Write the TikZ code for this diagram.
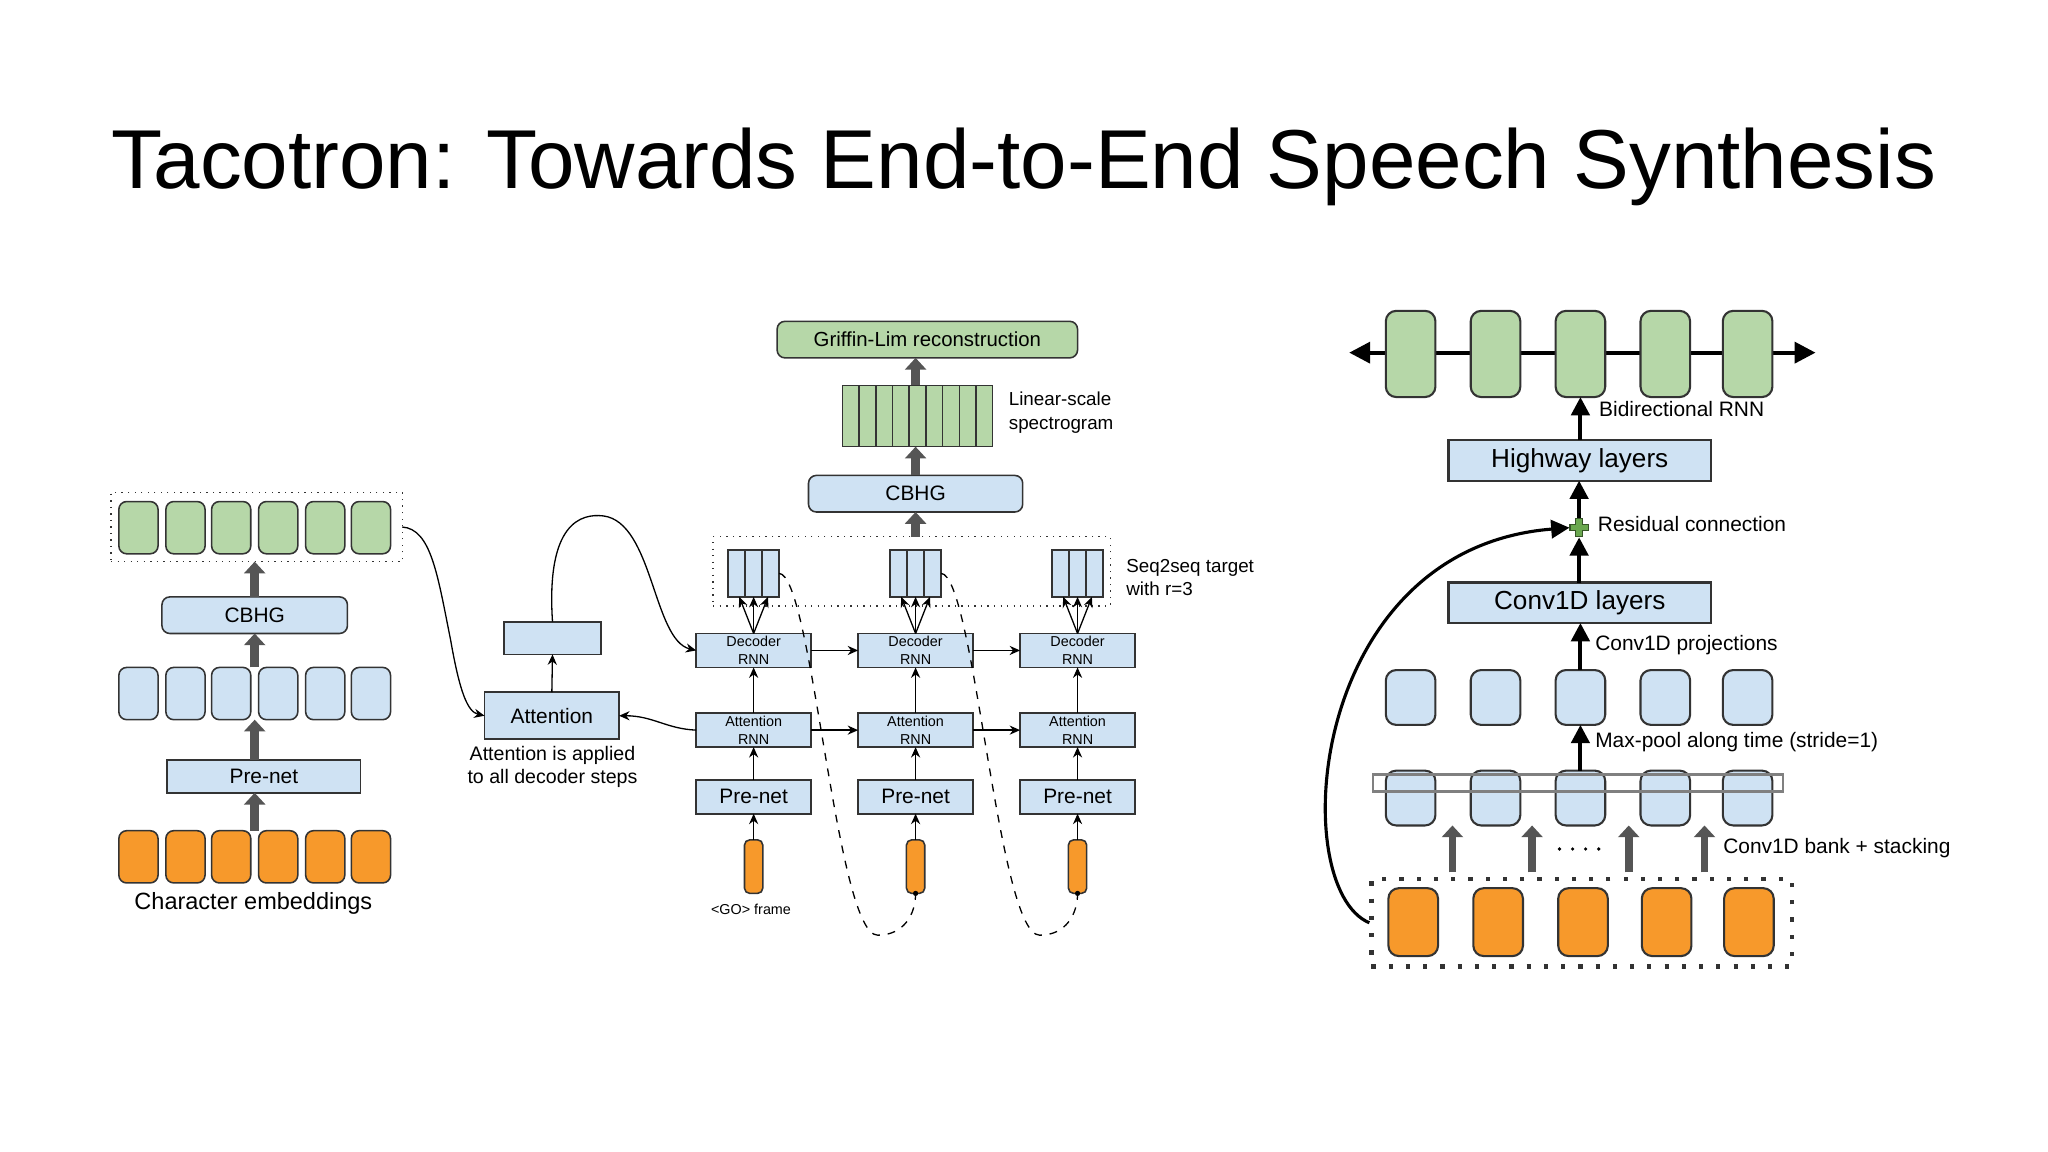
\documentclass[tikz,border=0pt]{standalone}
\usepackage{fontspec}
\setmainfont{Liberation Sans}
\usetikzlibrary{arrows.meta}
\definecolor{bl}{HTML}{CFE2F3}
\definecolor{gr}{HTML}{B6D7A8}
\definecolor{og}{HTML}{F7992B}
\definecolor{bd}{HTML}{333333}
\definecolor{gy}{HTML}{555555}
\definecolor{pl}{HTML}{6AA84F}
\newcommand\bx[7]{\node[#6,minimum width=#4*0.5pt,minimum height=#5*0.5pt] (#1) at (#2,#3) {#7};}
\newcommand\fs[2]{\fontsize{#1}{#2}\selectfont}
\begin{document}
\begin{tikzpicture}[x=0.5pt,y=-0.5pt,
  box/.style={draw=bd,line width=0.6pt,inner sep=0pt,outer sep=0pt,fill=bl,align=center},
  rbox/.style={box,rounded corners=3pt},
  gbox/.style={rbox,fill=gr},
  obox/.style={rbox,fill=og},
  dotbox/.style={draw=bd,dotted,line width=0.5pt,inner sep=0pt,outer sep=0pt},
  garr/.style={draw=gy,line width=3.5pt,-{Triangle[width=8pt,length=4.5pt]}},
  barr/.style={draw=black,line width=1.5pt,-{Triangle[width=7pt,length=7pt]}},
  tarr/.style={draw=black,line width=0.5pt,-{Stealth[length=4pt,width=3.5pt]}},
  lab/.style={inner sep=0pt,anchor=west,align=left}]
\useasboundingbox (0,0) rectangle (1568,882);
\fill[white] (0,0) rectangle (1568,882);
\node[font=\fs{32}{38}] (title) at (784,128) {Tacotron: Towards End-to-End Speech Synthesis};

% ---------- left: encoder ----------
\bx{ldot}{196.5}{403.5}{223}{53}{dotbox}{}
\foreach \i/\x in {1/106,2/142,3/177,4/213,5/249,6/284}{
  \bx{lg\i}{\x}{404}{30}{40}{gbox}{}
  \bx{lb\i}{\x}{531}{30}{40}{rbox}{}
  \bx{lo\i}{\x}{656}{30}{40}{obox}{}
}
\bx{lcbhg}{195}{471}{142}{28}{rbox,font=\fs{8}{10}}{CBHG}
\bx{lpre}{202}{594.5}{148}{25}{box,font=\fs{8}{10}}{Pre-net}
\draw[garr] (lcbhg.north) -- (lcbhg.north |- ldot.south);
\draw[garr] (lb1.north -| lcbhg) -- (lcbhg.south);
\draw[garr] (lpre.north -| lcbhg) -- (lb1.south -| lcbhg);
\draw[garr] (lo1.north -| lcbhg) -- (lpre.south -| lcbhg);
\node[font=\fs{9}{11}] (cemb) at (194,692) {Character embeddings};

% ---------- middle: attention + decoder ----------
\bx{emp}{423}{488.5}{74}{25}{box}{}
\bx{att}{422.5}{548}{103}{36}{box,font=\fs{8}{10}}{Attention}
\node[font=\fs{7.5}{9},align=center] (note) at (423,587) {Attention is applied\\to all decoder steps};
\bx{mdot}{698}{437.5}{304}{53}{dotbox}{}
\foreach \i/\x in {1/577,2/701,3/825}{
  \bx{dec\i}{\x}{498}{88}{26}{box,font=\fs{5.5}{7}}{Decoder\\RNN}
  \bx{ar\i}{\x}{559}{88}{26}{box,font=\fs{5.5}{7}}{Attention\\RNN}
  \bx{pre\i}{\x}{610}{88}{26}{box,font=\fs{8}{10}}{Pre-net}
  \bx{or\i}{\x}{663.5}{14}{41}{box,fill=og,rounded corners=2pt}{}
  \bx{tg\i}{\x}{439}{39}{36}{box}{}
  \draw[bd,line width=0.6pt] ([xshift=-3.25pt]tg\i.north) -- ([xshift=-3.25pt]tg\i.south)
     ([xshift=3.25pt]tg\i.north) -- ([xshift=3.25pt]tg\i.south);
  \draw[tarr] (dec\i.north) -- ([xshift=-5.5pt]tg\i.south);
  \draw[tarr] (dec\i.north) -- (tg\i.south);
  \draw[tarr] (dec\i.north) -- ([xshift=5.5pt]tg\i.south);
  \draw[tarr] (ar\i.north) -- (dec\i.south);
  \draw[tarr] (pre\i.north) -- (ar\i.south);
  \draw[tarr] (or\i.north) -- (pre\i.south);
}
\draw[tarr] (dec1.east) -- (dec2.west);
\draw[tarr] (dec2.east) -- (dec3.west);
\draw[tarr] (ar1.east) -- (ar2.west);
\draw[tarr] (ar2.east) -- (ar3.west);
\draw[tarr] (att.north) -- (emp.south);
\draw[tarr] (emp.north) .. controls (418,400) and (445,393) .. (462,395) .. controls (500,400) and (500,490) .. (dec1.west);
\draw[tarr] (ldot.east) .. controls (330,405) and (335,440) .. (345,490) .. controls (352,530) and (358,545) .. (att.west);
\draw[tarr] (ar1.west) .. controls (510,558) and (500,548) .. (att.east);
\draw[dashed,line width=0.5pt] (tg1.east) .. controls (622,440) and (640,716) .. (672,716) .. controls (692,716) and (701,700) .. (or2.south);
\draw[dashed,line width=0.5pt] (tg2.east) .. controls (746,440) and (764,716) .. (796,716) .. controls (816,716) and (825,700) .. (or3.south);
\fill (or2.south) circle[radius=2];
\fill (or3.south) circle[radius=2];
\node[font=\fs{5.5}{7}] (go) at (575,696) {<GO> frame};
\bx{cbhg}{701}{378}{164}{28}{rbox,font=\fs{8}{10}}{CBHG}
\bx{spec}{702.5}{318.5}{115}{47}{box,fill=gr}{}
\foreach \k in {1,...,8}{
  \draw[bd,line width=0.6pt] ([xshift=\k*6.389pt]spec.north west) -- ([xshift=\k*6.389pt]spec.south west);
}
\bx{gl}{710}{260}{230}{28}{gbox,font=\fs{7.8}{9}}{Griffin-Lim reconstruction}
\draw[garr] (mdot.north -| cbhg) -- (cbhg.south);
\draw[garr] (cbhg.north) -- (cbhg.north |- spec.south);
\draw[garr] (cbhg.north |- spec.north) -- (cbhg.north |- gl.south);
\node[lab,font=\fs{7.2}{9}] (lin) at (772,316) {Linear-scale\\spectrogram};
\node[lab,font=\fs{7.2}{9}] (s2s) at (862,442) {Seq2seq target\\with r=3};

% ---------- right: CBHG detail ----------
\coordinate (rl) at (1033,270);
\coordinate (rr) at (1390,270);
\draw[black,line width=1.5pt,{Triangle[width=8pt,length=8pt]}-{Triangle[width=8pt,length=8pt]}] (rl) -- (rr);
\foreach \i/\x in {1/1080,2/1145,3/1210,4/1275,5/1338}{
  \bx{rg\i}{\x}{271}{38}{66}{gbox,rounded corners=4pt,line width=0.8pt}{}
  \bx{rb\i}{\x}{534}{38}{42}{rbox,rounded corners=4pt,line width=0.8pt}{}
  \bx{bk\i}{\x}{611}{38}{42}{rbox,rounded corners=4pt,line width=0.8pt}{}
}
\foreach \i/\x in {1/1082,2/1147,3/1212,4/1276,5/1339}{
  \bx{ro\i}{\x}{706}{38}{52}{obox,rounded corners=4pt,line width=0.8pt}{}
}
\draw[gray,line width=0.8pt] (1051,593) rectangle (1365,606);
\bx{hw}{1209.5}{352.5}{201}{31}{box,font=\fs{10}{12},line width=0.8pt}{Highway layers}
\bx{conv}{1209.5}{461.5}{201}{31}{box,font=\fs{10}{12},line width=0.8pt}{Conv1D layers}
\node[inner sep=0pt,minimum size=7pt] (plus) at (1209,404) {};
\filldraw[fill=pl,draw=pl!50!black,line width=0.4pt]
  (1206.5,397) -- (1211.5,397) -- (1211.5,401.5) -- (1216,401.5) -- (1216,406.5) -- (1211.5,406.5)
  -- (1211.5,411) -- (1206.5,411) -- (1206.5,406.5) -- (1202,406.5) -- (1202,401.5) -- (1206.5,401.5) -- cycle;
\draw[barr] (rg3.south |- hw.north) -- (rg3.south);
\draw[barr] (plus.north) -- (hw.south -| plus);
\draw[barr] (conv.north -| plus) -- (plus.south);
\draw[barr] (rb3.north) -- (conv.south -| rb3);
\draw[barr] (bk3.north) -- (rb3.south);
\node[draw=bd,line width=1.6pt,dash pattern=on 1.6pt off 5pt,inner sep=0pt,minimum width=161pt,minimum height=33.5pt] (rdot) at (1211,706.5) {};
\coordinate (ga1) at (1112,668); \coordinate (ga2) at (1173,668);
\coordinate (ga3) at (1247,668); \coordinate (ga4) at (1305,668);
\foreach \j in {1,...,4}{
  \draw[garr,line width=3pt] (ga\j) -- (ga\j |- bk1.south);
}
\foreach \d in {1194,1204,1214,1224}{\fill (\d,650) circle[radius=1.4];}
\draw[barr,line width=1.2pt] (rdot.west) .. controls (985,680) and (1000,420) .. (plus.west);
\node[lab,font=\fs{8}{10}] (bir) at (1224,313) {Bidirectional RNN};
\node[lab,font=\fs{8}{10}] (res) at (1223,401) {Residual connection};
\node[lab,font=\fs{8}{10}] (proj) at (1221,494) {Conv1D projections};
\node[lab,font=\fs{8}{10}] (mp) at (1221,568) {Max-pool along time (stride=1)};
\node[lab,font=\fs{8}{10}] (bank) at (1319,649) {Conv1D bank + stacking};
\end{tikzpicture}
\end{document}
